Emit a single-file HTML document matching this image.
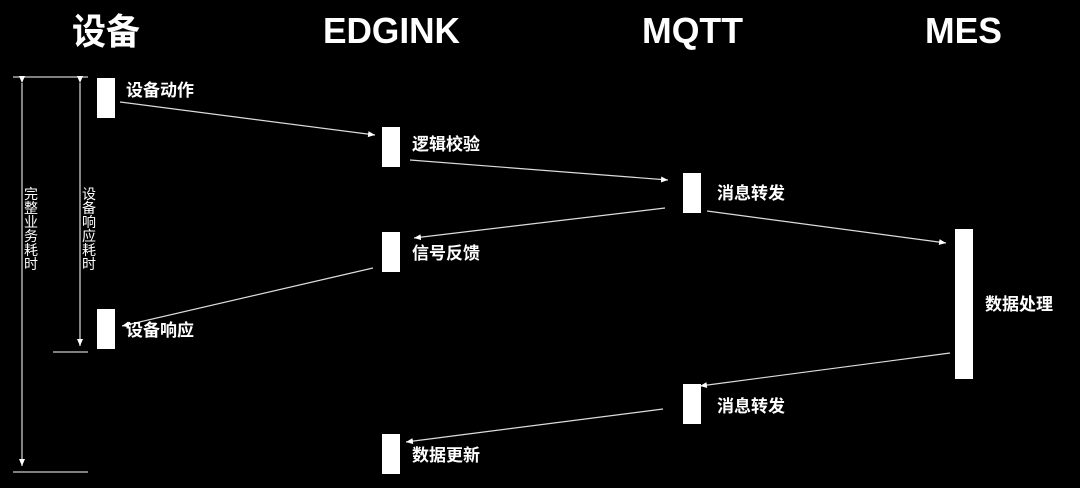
<!DOCTYPE html>
<html><head><meta charset="utf-8"><style>
html,body{margin:0;padding:0;background:#000;}
svg{display:block}
text{fill:#fff;font-family:"Liberation Sans","Noto Sans CJK SC",sans-serif;}
.t{font-size:36px;font-weight:bold}
.l{font-size:17px;font-weight:bold}
.v{font-size:14px}
</style></head><body>
<svg width="1080" height="488" viewBox="0 0 1080 488" xmlns="http://www.w3.org/2000/svg">
<defs><marker id="a" markerWidth="8" markerHeight="8" refX="7" refY="4" orient="auto" markerUnits="userSpaceOnUse"><path d="M0,1 L7,4 L0,7 Z" fill="#fff"/></marker></defs>
<rect width="1080" height="488" fill="#000"/>
<text class="t" x="72" y="44" textLength="68" lengthAdjust="spacingAndGlyphs" font-family="'Noto Sans CJK SC',sans-serif">设备</text>
<text class="t" x="323" y="43" textLength="137" lengthAdjust="spacingAndGlyphs">EDGINK</text>
<text class="t" x="642" y="43" textLength="101" lengthAdjust="spacingAndGlyphs">MQTT</text>
<text class="t" x="925" y="43" textLength="77" lengthAdjust="spacingAndGlyphs">MES</text>
<g stroke="#ccc" stroke-width="1.3" fill="none">
<line x1="13" y1="77" x2="88" y2="77"/>
<line x1="13" y1="472" x2="88" y2="472"/>
<line x1="53" y1="352" x2="88" y2="352"/>
<line x1="22" y1="83" x2="22" y2="466" marker-start="url(#a)" marker-end="url(#a)"/>
<line x1="80" y1="83" x2="80" y2="346" marker-start="url(#a)" marker-end="url(#a)"/>
</g>
<g stroke="#ddd" stroke-width="1.2" fill="none">
<line x1="120" y1="102" x2="375" y2="135" marker-end="url(#a)"/>
<line x1="410" y1="160" x2="668" y2="180" marker-end="url(#a)"/>
<line x1="665" y1="208" x2="414" y2="238" marker-end="url(#a)"/>
<line x1="707" y1="211" x2="946" y2="243" marker-end="url(#a)"/>
<line x1="373" y1="268" x2="122" y2="326" marker-end="url(#a)"/>
<line x1="950" y1="353" x2="700" y2="386" marker-end="url(#a)"/>
<line x1="663" y1="409" x2="406" y2="442" marker-end="url(#a)"/>
</g>
<g fill="#fff">
<rect x="97" y="78" width="18" height="40"/>
<rect x="97" y="309" width="18" height="40"/>
<rect x="382" y="127" width="18" height="40"/>
<rect x="382" y="232" width="18" height="40"/>
<rect x="382" y="434" width="18" height="40"/>
<rect x="683" y="173" width="18" height="40"/>
<rect x="683" y="384" width="18" height="40"/>
<rect x="955" y="229" width="18" height="150"/>
</g>
<text class="l" x="126" y="96">设备动作</text>
<text class="l" x="126" y="336">设备响应</text>
<text class="l" x="412" y="150">逻辑校验</text>
<text class="l" x="412" y="259">信号反馈</text>
<text class="l" x="412" y="461">数据更新</text>
<text class="l" x="717" y="199">消息转发</text>
<text class="l" x="717" y="412">消息转发</text>
<text class="l" x="985" y="310">数据处理</text>
<g>
<text class="v" x="24" y="199">完</text><text class="v" x="24" y="213">整</text><text class="v" x="24" y="227">业</text><text class="v" x="24" y="241">务</text><text class="v" x="24" y="255">耗</text><text class="v" x="24" y="269">时</text>
<text class="v" x="82" y="199">设</text><text class="v" x="82" y="213">备</text><text class="v" x="82" y="227">响</text><text class="v" x="82" y="241">应</text><text class="v" x="82" y="255">耗</text><text class="v" x="82" y="269">时</text>
</g>
</svg>
</body></html>
